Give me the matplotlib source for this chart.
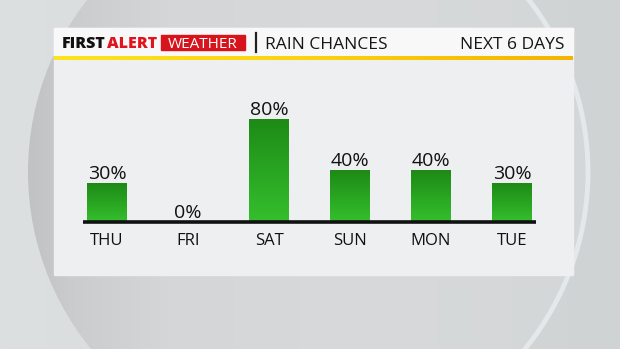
import numpy as np
import matplotlib
matplotlib.use("Agg")
import matplotlib.pyplot as plt
from matplotlib.patches import Rectangle, Circle, Arc
from matplotlib.colors import LinearSegmentedColormap

# data
days = ["THU", "FRI", "SAT", "SUN", "MON", "TUE"]
rain_pct = [30, 0, 80, 40, 40, 30]
title_left = "RAIN CHANCES"
title_right = "NEXT 6 DAYS"

W, H = 620, 349
fig = plt.figure(figsize=(6.2, 3.49), dpi=100)

# background in pixel coords
bg = fig.add_axes([0, 0, 1, 1])
bg.axis("off")
outer = LinearSegmentedColormap.from_list("outer", ["#dde0e1", "#d6d9da", "#d0d3d4"])
bg.imshow(np.linspace(0, 1, 256)[None, :], cmap=outer, aspect="auto",
          extent=(0, W, H, 0), zorder=0)

# big circle behind the panel, shaded only near its left edge
cx, cy, r = 308, 172, 280
disc = Circle((cx, cy), r, transform=bg.transData)
inner = LinearSegmentedColormap.from_list(
    "inner", [(0, "#c0c2c3"), (0.08, "#caccce"), (0.25, "#d4d6d7"),
              (0.6, "#d7d9da"), (1, "#d4d7d8")])
im = bg.imshow(np.linspace(0, 1, 256)[None, :], cmap=inner, aspect="auto",
               extent=(cx - r, cx + r, H, 0), zorder=1)
im.set_clip_path(disc)
bg.add_patch(Arc((cx, cy), 2 * r, 2 * r, theta1=-75, theta2=80,
                 color="#e3e8eb", lw=3.5, zorder=1.5))

# panel
bg.add_patch(Rectangle((54, 28), 519, 247, color="#edeff0", zorder=2))
bg.add_patch(Rectangle((54, 28), 519, 28, color="#f8f8f8", zorder=3))
yel = LinearSegmentedColormap.from_list("yel", ["#fde41c", "#fbd20e", "#f6b300"])
bg.imshow(np.linspace(0, 1, 256)[None, :], cmap=yel, aspect="auto",
          extent=(54, 573, 60, 56), zorder=4)
bg.set_xlim(0, W)
bg.set_ylim(H, 0)

# header text
hfont = "Open Sans"
bg.text(62, 48.5, "FIRST", fontsize=11.5, fontweight="heavy", family=hfont,
        color="#111111", va="baseline", ha="left", zorder=5)
bg.text(107, 48.5, "ALERT", fontsize=11.5, fontweight="heavy", family=hfont,
        color="#e0141e", va="baseline", ha="left", zorder=5)
bg.add_patch(Rectangle((161, 35), 84, 14.5, color="#d7141c", zorder=4))
bg.text(203, 47.8, "WEATHER", fontsize=11, family=hfont, color="white",
        va="baseline", ha="center", zorder=5)
bg.plot([256, 256], [33, 52], color="#222222", lw=1.6, zorder=5)
bg.text(265, 49, title_left, fontsize=12.5, family=hfont, color="#151515",
        va="baseline", ha="left", zorder=5)
bg.text(565, 49, title_right, fontsize=12.5, family=hfont, color="#151515",
        va="baseline", ha="right", zorder=5)

# chart axes
x0, step, base, ppu = 107, 81, 222, 1.29
left = (x0 - step / 2) / W
width = 6 * step / W
bottom = (H - base) / H
height = 100 * ppu / H
ax = fig.add_axes([left, bottom, width, height])
ax.axis("off")
ax.patch.set_alpha(0)

x = np.arange(len(days))
bars = ax.bar(x, rain_pct, width=40 / step, color="none", zorder=2)
green = LinearSegmentedColormap.from_list("grn", ["#35bf2d", "#1d8a16"])
grad = np.linspace(0, 1, 256)[:, None]
for b in bars:
    if b.get_height() <= 0:
        continue
    gim = ax.imshow(grad, cmap=green, origin="lower", aspect="auto",
                    extent=(b.get_x(), b.get_x() + b.get_width(), 0, b.get_height()),
                    zorder=2)
    gim.set_clip_path(b)
ax.set_xlim(-0.5, 5.5)
ax.set_ylim(0, 100)

ax.plot([-0.296, 5.296], [0, 0], color="#111111", lw=2.6, zorder=3,
        clip_on=False, solid_capstyle="butt")

for xi, v in zip(x, rain_pct):
    ax.text(xi, v + 3.2, f"{v}%", ha="center", va="baseline", fontsize=14,
            family=hfont, color="#111111", zorder=4)
for xi, d in zip(x, days):
    ax.text(xi, -17.5, d, ha="center", va="baseline", fontsize=12,
            family=hfont, color="#111111", zorder=4, clip_on=False)

fig.savefig("out.png", dpi=100)
